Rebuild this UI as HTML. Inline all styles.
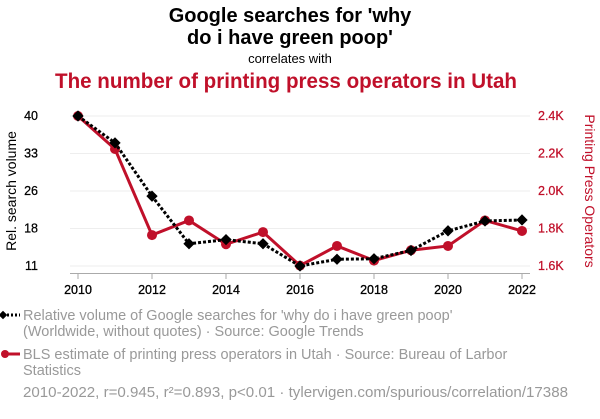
<!DOCTYPE html>
<html><head><meta charset="utf-8"><style>
body{margin:0;background:#fff;font-family:"Liberation Sans",sans-serif;}
svg text{font-family:"Liberation Sans",sans-serif;}
</style></head><body>
<svg id="c" width="600" height="414" viewBox="0 0 600 414">
<text x="290" y="22" text-anchor="middle" font-size="20" font-weight="bold" fill="#000">Google searches for 'why</text>
<text x="290" y="44" text-anchor="middle" font-size="20" font-weight="bold" fill="#000">do i have green poop'</text>
<text x="290" y="63" text-anchor="middle" font-size="13" fill="#000">correlates with</text>
<text x="286" y="88" text-anchor="middle" font-size="21" font-weight="bold" fill="#c0102a" textLength="462" lengthAdjust="spacingAndGlyphs">The number of printing press operators in Utah</text>
<text transform="translate(16,191) rotate(-90)" text-anchor="middle" font-size="14" fill="#000">Rel. search volume</text>
<text transform="translate(585,191) rotate(90)" text-anchor="middle" font-size="14" fill="#c0102a">Printing Press Operators</text>
<g id="grid"></g><g id="axes"></g><g id="series"></g>
<g>
<line x1="3" y1="315" x2="20" y2="315" stroke="#000" stroke-width="3" stroke-dasharray="2,2"/>
<rect x="0" y="312" width="6" height="6" transform="rotate(45 3 315)" fill="#000"/>
<text x="23" y="320" font-size="14.5" fill="#999">Relative volume of Google searches for 'why do i have green poop'</text>
<text x="23" y="336" font-size="14.5" fill="#999">(Worldwide, without quotes) · Source: Google Trends</text>
<line x1="3" y1="354" x2="20" y2="354" stroke="#c0102a" stroke-width="3"/>
<circle cx="5" cy="354" r="4" fill="#c0102a"/>
<text x="23" y="359" font-size="14.5" fill="#999">BLS estimate of printing press operators in Utah · Source: Bureau of Larbor</text>
<text x="23" y="375" font-size="14.5" fill="#999">Statistics</text>
<text x="23" y="397" font-size="14.5" fill="#999" textLength="545" lengthAdjust="spacingAndGlyphs">2010-2022, r=0.945, r²=0.893, p&lt;0.01 · tylervigen.com/spurious/correlation/17388</text>
</g>
</svg>
<script>
const years=[2010,2011,2012,2013,2014,2015,2016,2017,2018,2019,2020,2021,2022];
const searches=[40,34.8,24.5,15.3,16.1,15.3,11,12.3,12.4,14,17.8,19.7,19.9];
const operators=[2400,2224,1765,1843,1716,1781,1602,1707,1629,1684,1707,1843,1787];
const leftTicks=[11,18,26,33,40];
const rightTicks=[1600,1800,2000,2200,2400];
const rightTickLabels=["1.6K","1.8K","2.0K","2.2K","2.4K"];
const xTicks=[2010,2012,2014,2016,2018,2020,2022];
const NS="http://www.w3.org/2000/svg";
const x=v=>78+(v-2010)*37;
const yL=v=>266-(v-11)/29*150;
const yR=v=>266-(v-1600)/800*150;
function mk(t,a,p){const e=document.createElementNS(NS,t);for(const k in a)e.setAttribute(k,a[k]);p.appendChild(e);return e;}
const grid=document.getElementById('grid'),axes=document.getElementById('axes'),ser=document.getElementById('series');
leftTicks.forEach((v,i)=>{
 const yy=266-i*37.5;
 const g=mk('line',{x1:70,x2:530,y1:yy,y2:yy,stroke:'#eee','stroke-width':1},grid);
 
 
 const t=mk('text',{x:38,y:yy+4,'text-anchor':'end','font-size':12.5,fill:'#000',stroke:'#000','stroke-width':0.25},axes);t.textContent=v;
 
 
});
rightTicks.forEach((v,i)=>{
 const t=mk('text',{x:538,y:yR(v)+4,'font-size':12.5,fill:'#c0102a',stroke:'#c0102a','stroke-width':0.25},axes);t.textContent=rightTickLabels[i];
 
 
});
mk('line',{x1:70,x2:530,y1:273.5,y2:273.5,stroke:'#aaa'},axes);
xTicks.forEach(v=>{
 mk('line',{x1:x(v),x2:x(v),y1:273,y2:279,stroke:'#aaa'},axes);
 const t=mk('text',{x:x(v),y:294,'text-anchor':'middle','font-size':12.5,fill:'#000',stroke:'#000','stroke-width':0.3},axes);t.textContent=v;
 
 
});
const rl=mk('polyline',{points:years.map((y,i)=>x(y)+','+yR(operators[i])).join(' '),fill:'none',stroke:'#c0102a','stroke-width':3},ser);


years.forEach((y,i)=>{const c=mk('circle',{cx:x(y),cy:yR(operators[i]),r:5,fill:'#c0102a'},ser);
 
 });
const bl=mk('polyline',{points:years.map((y,i)=>x(y)+','+yL(searches[i])).join(' '),fill:'none',stroke:'#000','stroke-width':3,'stroke-dasharray':'3,2'},ser);


years.forEach((y,i)=>{const r=mk('rect',{x:x(y)-4,y:yL(searches[i])-4,width:8,height:8,fill:'#000',transform:`rotate(45 ${x(y)} ${yL(searches[i])})`},ser);
 
 });
</script>
</body></html>
